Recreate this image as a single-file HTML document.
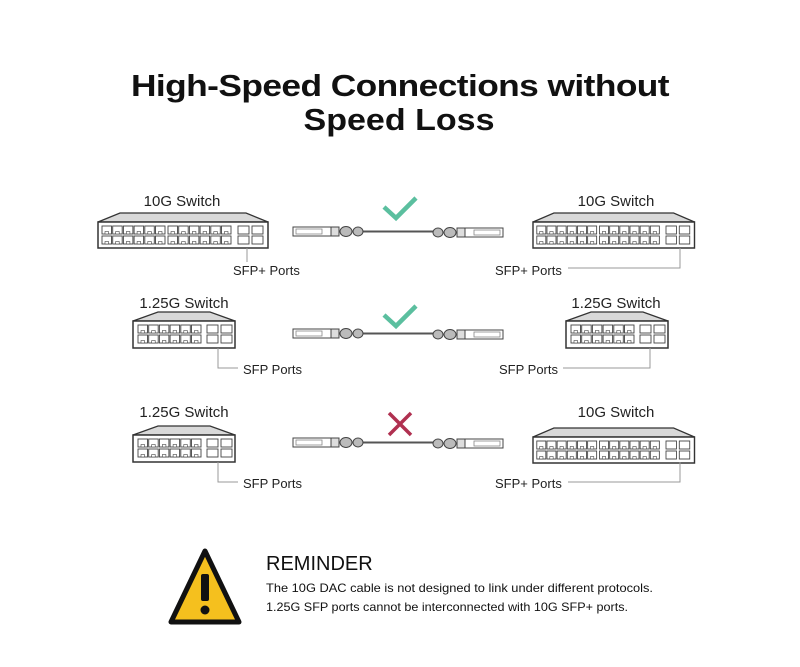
<!DOCTYPE html>
<html><head><meta charset="utf-8"><style>
html,body{margin:0;padding:0;background:#fff;}
svg{display:block;font-family:"Liberation Sans",Arial,sans-serif;}
</style></head><body>
<svg width="800" height="667" viewBox="0 0 800 667" xmlns="http://www.w3.org/2000/svg">
<defs>
  <g id="p"><rect x="0" y="0" width="9.5" height="8" fill="#fff" stroke="#444" stroke-width="0.9"/><rect x="3" y="5.5" width="3.5" height="2.5" fill="#fff" stroke="#444" stroke-width="0.6"/></g>
  <g id="row6"><use href="#p" x="0"/><use href="#p" x="10.7"/><use href="#p" x="21.4"/><use href="#p" x="32.1"/><use href="#p" x="42.8"/><use href="#p" x="53.5"/></g>
  <g id="grp"><use href="#row6" y="0"/><use href="#row6" y="10"/></g>
  <g id="sfp"><rect x="0" y="0" width="11" height="8" fill="#fff" stroke="#444" stroke-width="0.9"/><rect x="14" y="0" width="11" height="8" fill="#fff" stroke="#444" stroke-width="0.9"/><rect x="0" y="10" width="11" height="8" fill="#fff" stroke="#444" stroke-width="0.9"/><rect x="14" y="10" width="11" height="8" fill="#fff" stroke="#444" stroke-width="0.9"/></g>
  <g id="sw10">
    <polygon points="0,0 22,-9 148,-9 170,0" fill="#d9d9d9" stroke="#333" stroke-width="1.3"/>
    <rect x="0" y="0" width="170" height="26" fill="#fff" stroke="#333" stroke-width="1.5"/>
    <use href="#grp" x="4" y="4"/><use href="#grp" x="70" y="4"/><use href="#sfp" x="140" y="4"/>
  </g>
  <g id="sw1">
    <polygon points="0,0 25,-9 77,-9 102,0" fill="#d9d9d9" stroke="#333" stroke-width="1.3"/>
    <rect x="0" y="0" width="102" height="27" fill="#fff" stroke="#333" stroke-width="1.5"/>
    <use href="#grp" x="5" y="4"/><use href="#sfp" x="74" y="4"/>
  </g>
  <g id="plug">
    <rect x="0" y="-4" width="38" height="9" fill="#fff" stroke="#444" stroke-width="1"/>
    <rect x="3" y="-2" width="26" height="5" fill="#fff" stroke="#888" stroke-width="0.8"/>
    <rect x="38" y="-4" width="8" height="9" fill="#ddd" stroke="#444" stroke-width="1"/>
    <ellipse cx="53" cy="0.5" rx="6" ry="5" fill="#bbb" stroke="#444" stroke-width="1"/>
    <ellipse cx="65" cy="0.5" rx="5" ry="4.5" fill="#bbb" stroke="#444" stroke-width="1"/>
  </g>
  <g id="cable">
    <line x1="60" y1="0.5" x2="150" y2="0.5" stroke="#555" stroke-width="2"/>
    <use href="#plug"/>
    <use href="#plug" transform="translate(210,1) scale(-1,1)"/>
  </g>
</defs>

<text x="400" y="96" font-size="31" font-weight="bold" text-anchor="middle" textLength="538" lengthAdjust="spacingAndGlyphs" fill="#111" letter-spacing="-0.5">High-Speed Connections without</text>
<text x="399" y="130" font-size="31" font-weight="bold" text-anchor="middle" textLength="191" lengthAdjust="spacingAndGlyphs" fill="#111">Speed Loss</text>

<g font-size="15" fill="#222">
<text x="182" y="206" text-anchor="middle">10G Switch</text>
<use href="#sw10" x="98" y="222"/>
<line x1="247" y1="248" x2="247" y2="262" stroke="#999"/>
<text x="233" y="275" font-size="13">SFP+ Ports</text>
<use href="#cable" x="293" y="231"/>
<polyline points="384,207 396,218 416,198" fill="none" stroke="#5bbf9f" stroke-width="4.5"/>
<text x="616" y="206" text-anchor="middle">10G Switch</text>
<use href="#sw10" transform="translate(533,222) scale(0.95,1)"/>
<polyline points="680,248 680,268 568,268" fill="none" stroke="#999"/>
<text x="495" y="275" font-size="13">SFP+ Ports</text>

<text x="184" y="308" text-anchor="middle">1.25G Switch</text>
<use href="#sw1" x="133" y="321"/>
<polyline points="218,348 218,368 238,368" fill="none" stroke="#999"/>
<text x="243" y="374" font-size="13">SFP Ports</text>
<use href="#cable" x="293" y="333"/>
<polyline points="384,315 396,326 416,306" fill="none" stroke="#5bbf9f" stroke-width="4.5"/>
<text x="616" y="308" text-anchor="middle">1.25G Switch</text>
<use href="#sw1" x="566" y="321"/>
<polyline points="650,348 650,368 563,368" fill="none" stroke="#999"/>
<text x="499" y="374" font-size="13">SFP Ports</text>

<text x="184" y="417" text-anchor="middle">1.25G Switch</text>
<use href="#sw1" x="133" y="435"/>
<polyline points="218,462 218,482 238,482" fill="none" stroke="#999"/>
<text x="243" y="488" font-size="13">SFP Ports</text>
<use href="#cable" x="293" y="442"/>
<path d="M389,413 L411,435 M411,413 L389,435" stroke="#b03050" stroke-width="3.5"/>
<text x="616" y="417" text-anchor="middle">10G Switch</text>
<use href="#sw10" transform="translate(533,437) scale(0.95,1)"/>
<polyline points="680,462 680,482 568,482" fill="none" stroke="#999"/>
<text x="495" y="488" font-size="13">SFP+ Ports</text>
</g>

<polygon points="205,551 239,622 171,622" fill="#f5c01e" stroke="#111" stroke-width="5" stroke-linejoin="round"/>
<rect x="201" y="574" width="8" height="27" rx="2" fill="#111"/>
<circle cx="205" cy="610" r="4.5" fill="#111"/>
<text x="266" y="570" font-size="20" fill="#111">REMINDER</text>
<text x="266" y="592" font-size="12" fill="#111" textLength="387" lengthAdjust="spacingAndGlyphs">The 10G DAC cable is not designed to link under different protocols.</text>
<text x="266" y="611" font-size="12" fill="#111" textLength="362" lengthAdjust="spacingAndGlyphs">1.25G SFP ports cannot be interconnected with 10G SFP+ ports.</text>
</svg>
</body></html>
